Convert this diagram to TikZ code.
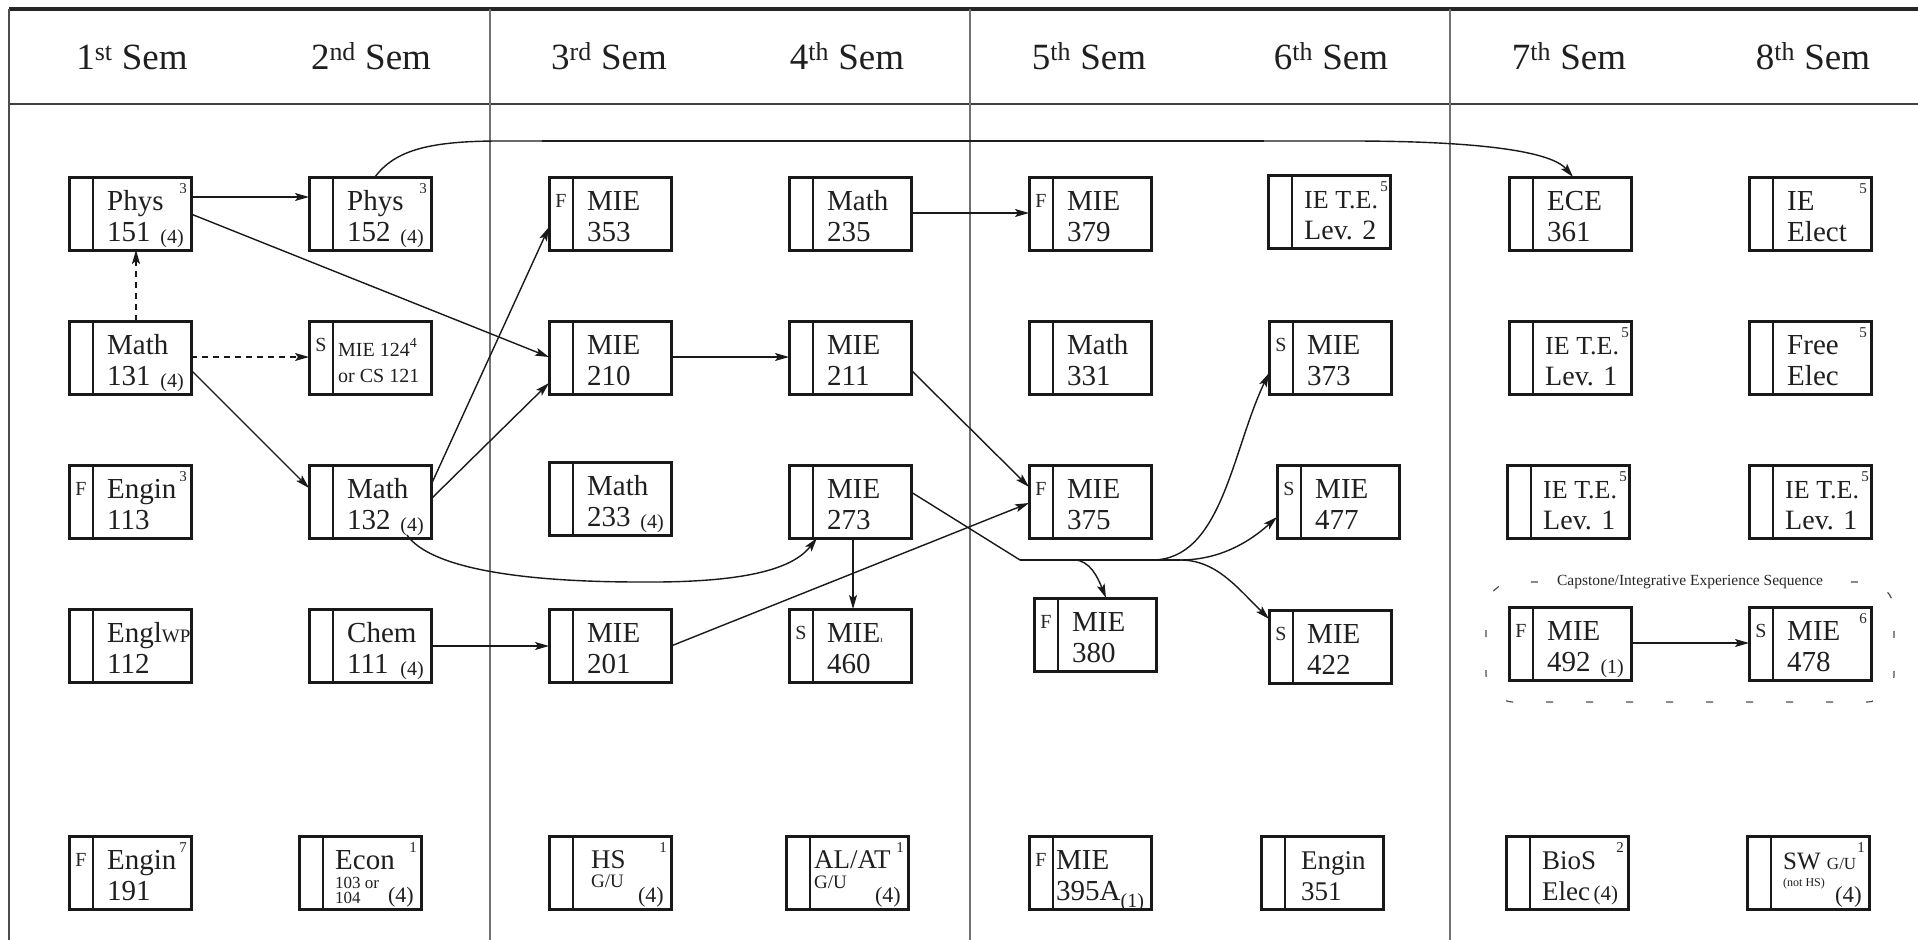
\documentclass[tikz,border=0pt]{standalone}
\usepackage{fontspec}
\setmainfont{Liberation Serif}
\usetikzlibrary{arrows.meta}
\newcounter{tn}
\tikzset{
  x=1pt,y=-1pt,
  cbox/.style={draw=black!90, line width=3pt, minimum width=122pt, minimum height=73pt, inner sep=0pt, outer sep=0pt, anchor=north west},
  stripe/.style={line width=2.6pt, draw=black!90},
  ltr/.style={font=\fontsize{20}{20}\selectfont, anchor=base, inner sep=0pt, text=black!85},
  ctx/.style={anchor=base west, inner sep=0pt, text=black!88},
  supst/.style={font=\fontsize{15}{15}\selectfont, anchor=north east, inner sep=0pt, text=black!85},
  hdr/.style={font=\fontsize{37}{37}\selectfont, anchor=base, inner sep=0pt, text=black!88},
  conn/.style={line width=1.4pt, draw=black!90, -{Stealth[length=14pt,width=8pt,inset=3pt]}},
  dconn/.style={conn, dash pattern=on 6pt off 5pt},
  sepline/.style={line width=1.8pt, draw=black!55},
  capdash/.style={line width=1.2pt, draw=black!70, dash pattern=on 7pt off 33pt, dash phase=20pt},
}
\newcommand\cb[4]{%
  \node[cbox] (#1) at (#2,#3) {};
  \draw[stripe] ([xshift=24pt]#1.north west) -- ([xshift=24pt]#1.south west);
  \node[ltr] (#1-ltr) at ([xshift=12pt,yshift=-30pt]#1.north west) {#4};
}
\newcommand\ct[5]{%
  \stepcounter{tn}%
  \node[ctx, font=\fontsize{#4}{#4}\selectfont] (t\arabic{tn}) at ([xshift=#2pt,yshift=-#3pt]#1.north west) {#5};
}
\newcommand\two[3]{\ct{#1}{38}{33}{29}{#2}\ct{#1}{38}{64}{29}{#3}}
\newcommand\ietwo[2]{\ct{#1}{36}{33}{26}{IE T.E.}\ct{#1}{36}{64}{28}{#2}\node[supst] (#1-sup) at ([xshift=-2pt,yshift=-6pt]#1.north east) {5};}
\newcommand\supn[2]{\node[supst] (#1-sup) at ([xshift=-4pt,yshift=-6pt]#1.north east) {#2};}
\newcommand\crd[3][20]{\node[anchor=base east, inner sep=0pt, text=black!88, font=\fontsize{#1}{#1}\selectfont] (#2-cr) at ([xshift=-7pt,yshift=-66pt]#2.north east) {#3};}
\begin{document}
\begin{tikzpicture}
\useasboundingbox (0,0) rectangle (1918,939);
\clip (0,0) rectangle (1918,939);
\fill[white] (0,0) rectangle (1918,939);
% frame
\draw[line width=3.5pt, black!85] (9,9) -- (1930,9);
\draw[line width=2pt, black!70] (9,9) -- (9,950);
\draw[line width=2.2pt, black!75] (9,104) -- (1930,104);
\draw[sepline] (490,9) -- (490,950);
\draw[sepline] (970,9) -- (970,950);
\draw[sepline] (1450,9) -- (1450,950);
% headers
\node[hdr] (h1) at (132,70) {1\textsuperscript{st} Sem};
\node[hdr] (h2) at (371,70) {2\textsuperscript{nd} Sem};
\node[hdr] (h3) at (609,70) {3\textsuperscript{rd} Sem};
\node[hdr] (h4) at (847,70) {4\textsuperscript{th} Sem};
\node[hdr] (h5) at (1089,70) {5\textsuperscript{th} Sem};
\node[hdr] (h6) at (1331,70) {6\textsuperscript{th} Sem};
\node[hdr] (h7) at (1569,70) {7\textsuperscript{th} Sem};
\node[hdr] (h8) at (1813,70) {8\textsuperscript{th} Sem};
% column 1
\cb{p151}{69}{177}{} \two{p151}{Phys}{151} \supn{p151}{3} \crd{p151}{(4)}
\cb{m131}{69}{321}{} \two{m131}{Math}{131} \crd{m131}{(4)}
\cb{e113}{69}{465}{F} \two{e113}{Engin}{113} \supn{e113}{3}
\cb{e112}{69}{609}{} \two{e112}{Engl{\fontsize{19}{19}\selectfont WP}}{112}
\cb{e191}{69}{836}{F} \two{e191}{Engin}{191} \supn{e191}{7}
% column 2
\cb{p152}{309}{177}{} \two{p152}{Phys}{152} \supn{p152}{3} \crd{p152}{(4)}
\cb{m124}{309}{321}{S} \ct{m124}{29}{35}{20}{MIE 124\raisebox{9pt}{\fontsize{14}{14}\selectfont 4}} \ct{m124}{29}{61}{20}{or CS 121}
\cb{m132}{309}{465}{} \two{m132}{Math}{132} \crd{m132}{(4)}
\cb{c111}{309}{609}{} \two{c111}{Chem}{111} \crd{c111}{(4)}
\cb{econ}{299}{836}{} \ct{econ}{36}{33}{29}{Econ} \ct{econ}{36}{52}{17}{103 or} \ct{econ}{36}{67}{17}{104} \supn{econ}{1} \crd[22]{econ}{(4)}
% column 3
\cb{m353}{549}{177}{F} \two{m353}{MIE}{353}
\cb{m210}{549}{321}{} \two{m210}{MIE}{210}
\cb{m233}{549}{462}{} \two{m233}{Math}{233} \crd{m233}{(4)}
\cb{m201}{549}{609}{} \two{m201}{MIE}{201}
\cb{hs}{549}{836}{} \ct{hs}{42}{32}{27}{HS} \ct{hs}{42}{51}{19}{G/U} \supn{hs}{1} \crd[22]{hs}{(4)}
% column 4
\cb{m235}{789}{177}{} \two{m235}{Math}{235}
\cb{m211}{789}{321}{} \two{m211}{MIE}{211}
\cb{m273}{789}{465}{} \two{m273}{MIE}{273}
\cb{m460}{789}{609}{S} \two{m460}{MIE{\fontsize{9}{9}\selectfont ı}}{460}
\cb{alat}{786}{836}{} \ct{alat}{28}{32}{27}{AL/AT} \ct{alat}{28}{52}{19}{G/U} \supn{alat}{1} \crd[22]{alat}{(4)}
% column 5
\cb{m379}{1029}{177}{F} \two{m379}{MIE}{379}
\cb{m331}{1029}{321}{} \two{m331}{Math}{331}
\cb{m375}{1029}{465}{F} \two{m375}{MIE}{375}
\cb{m380}{1034}{598}{F} \two{m380}{MIE}{380}
\cb{m395}{1029}{836}{F} \ct{m395}{27}{33}{29}{MIE} \ct{m395}{27}{64}{29}{395A\raisebox{-7pt}{\fontsize{20}{20}\selectfont(1)}}
% column 6
\cb{ie2}{1268}{175}{} \ietwo{ie2}{Lev. 2}
\cb{m373}{1269}{321}{S} \two{m373}{MIE}{373}
\cb{m477}{1277}{465}{S} \two{m477}{MIE}{477}
\cb{m422}{1269}{610}{S} \two{m422}{MIE}{422}
\cb{e351}{1261}{836}{} \ct{e351}{40}{33}{27}{Engin} \ct{e351}{40}{64}{27}{351}
% column 7
\cb{ece}{1509}{177}{} \two{ece}{ECE}{361}
\cb{ie1a}{1509}{321}{} \ietwo{ie1a}{Lev. 1}
\cb{ie1b}{1507}{465}{} \ietwo{ie1b}{Lev. 1}
\cb{m492}{1509}{607}{F} \two{m492}{MIE}{492} \crd{m492}{(1)}
\cb{bios}{1506}{836}{} \ct{bios}{36}{33}{27}{BioS} \ct{bios}{36}{64}{27}{Elec{\fontsize{21}{21}\selectfont\,(4)}} \supn{bios}{2}
% column 8
\cb{iee}{1749}{177}{} \two{iee}{IE}{Elect} \supn{iee}{5}
\cb{free}{1749}{321}{} \two{free}{Free}{Elec} \supn{free}{5}
\cb{ie1c}{1749}{465}{} \ietwo{ie1c}{Lev. 1}
\cb{m478}{1749}{607}{S} \two{m478}{MIE}{478} \supn{m478}{6}
\cb{sw}{1747}{836}{} \ct{sw}{36}{33}{25}{SW {\fontsize{17}{17}\selectfont G/U}} \ct{sw}{36}{50}{12}{(not HS)} \crd[23]{sw}{(4)} \supn{sw}{1}
% capstone group
\draw[capdash, rounded corners=28pt] (1486,582) rectangle (1894,702);
\node[fill=white, inner xsep=14pt, inner ysep=2pt, font=\fontsize{15.5}{15.5}\selectfont, text=black!85] (cap) at (1690,582) {Capstone/Integrative Experience Sequence};
% connectors
\draw[conn] ([yshift=-20pt]p151.north east) -- ([yshift=-20pt]p152.north west);
\draw[conn] ([yshift=-37pt]p151.north east) -- ([yshift=-36pt]m210.north west);
\draw[dconn] ([xshift=6pt]m131.north) -- ([xshift=6pt]p151.south);
\draw[dconn] ([yshift=-36pt]m131.north east) -- ([yshift=-36pt]m124.north west);
\draw[conn] ([yshift=-49pt]m131.north east) -- ([yshift=-23pt]m132.north west);
\draw[conn] ([yshift=-20pt]m132.north east) -- ([yshift=-50pt]m353.north west);
\draw[conn] ([yshift=-34pt]m132.north east) -- ([yshift=-62pt]m210.north west);
\draw[conn] ([xshift=-24pt,yshift=3pt]m132.south east) .. controls (430,568) and (520,582) .. (640,582) .. controls (755,583) and (795,566) .. ([xshift=28pt]m273.south west);
\draw[conn] ([yshift=-37pt]c111.north east) -- ([yshift=-37pt]m201.north west);
\draw[conn] ([yshift=-37pt]m201.north east) -- ([yshift=-38pt]m375.north west);
\draw[conn] ([yshift=-36pt]m210.north east) -- ([yshift=-36pt]m211.north west);
\draw[conn] ([yshift=-49pt]m211.north east) -- ([yshift=-22pt]m375.north west);
\draw[conn] ([yshift=-36pt]m235.north east) -- ([yshift=-36pt]m379.north west);
\draw[conn] ([xshift=64pt]m273.south west) -- ([xshift=64pt]m460.north west);
\draw[conn] ([yshift=-36pt]m492.north east) -- ([yshift=-36pt]m478.north west);
% Phys 152 to ECE 361
\draw[line width=2.6pt, black!85] (542,141) -- (1264,141);
\draw[conn] ([xshift=66pt]p152.north west) .. controls (395,150) and (430,141) .. (500,141) -- (1350,141) .. controls (1470,141) and (1550,150) .. ([xshift=64pt]ece.north west);
% MIE 273 branching
\coordinate (j1) at (1020,560);
\coordinate (j2) at (1180,560);
\coordinate (b380) at (1074,560);
\coordinate (b373) at (1152,560);
\draw[line width=1.4pt, black!90] ([yshift=-27pt]m273.north east) -- (j1);
\draw[line width=2.2pt, black!90] (j1) -- (j2);
\draw[conn] (b380) .. controls (1090,560) and (1098,578) .. ([xshift=72pt]m380.north west);
\draw[conn] (b373) .. controls (1222,560) and (1232,450) .. ([yshift=-52pt]m373.north west);
\draw[conn] (j2) .. controls (1215,560) and (1245,546) .. ([yshift=-52pt]m477.north west);
\draw[conn] (j2) .. controls (1215,560) and (1235,585) .. ([yshift=-9pt]m422.north west);
\end{tikzpicture}
\end{document}
